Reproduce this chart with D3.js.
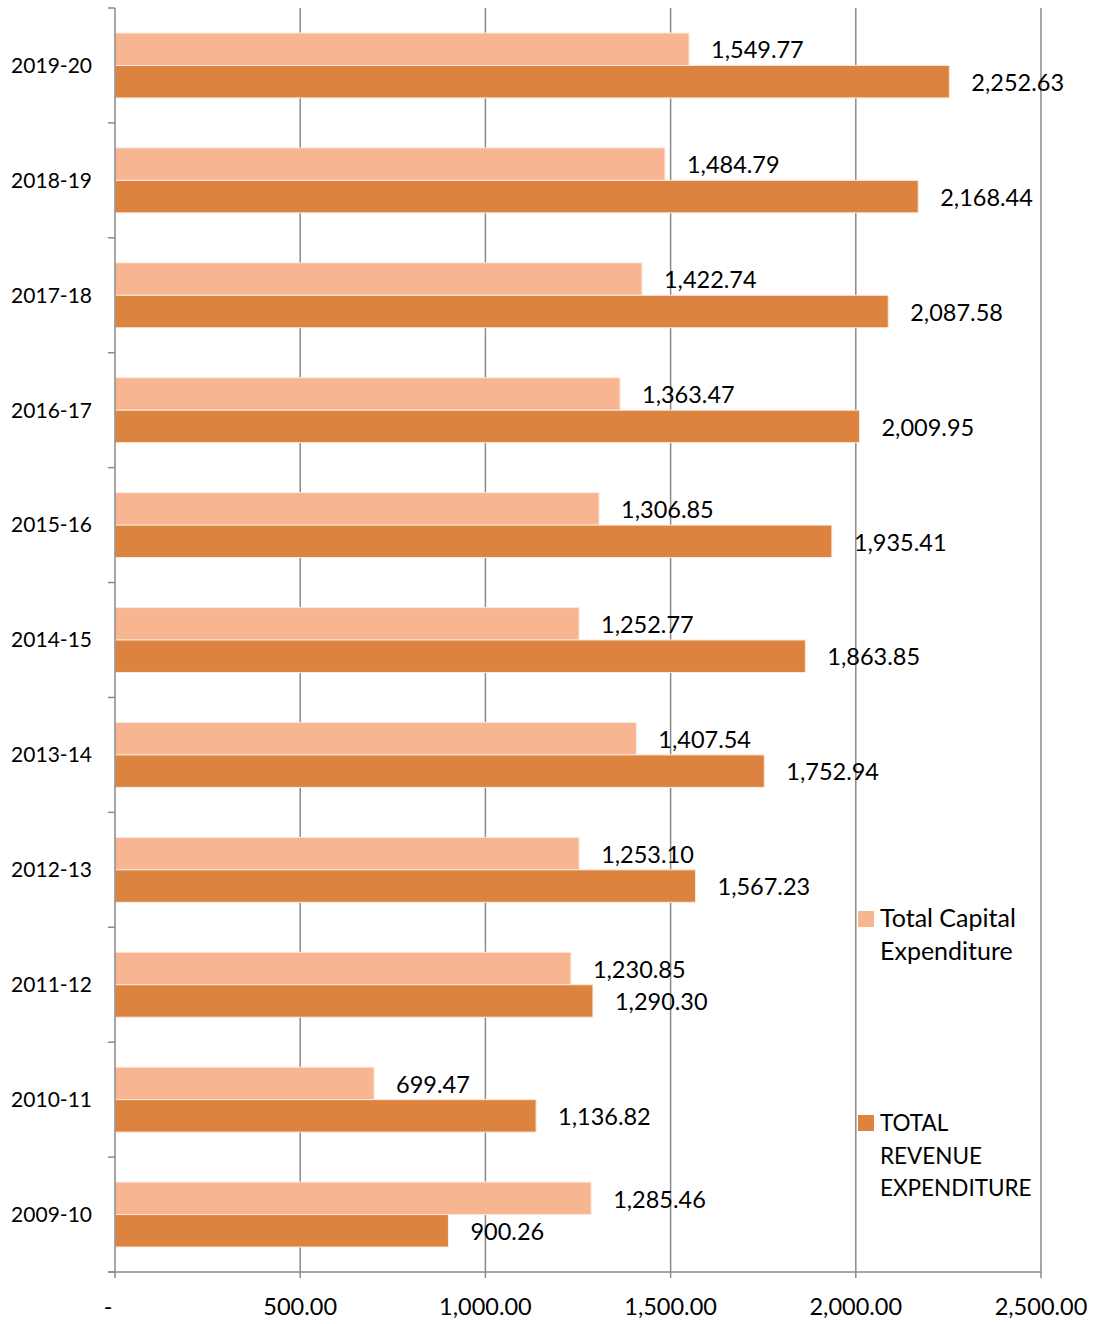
<!DOCTYPE html>
<html><head><meta charset="utf-8">
<script src="https://cdn.jsdelivr.net/npm/d3@7"></script>
<style>body{margin:0;background:#fff}text{font-family:Lato,"Open Sans",sans-serif;fill:#000}</style>
</head><body><svg id="c" width="1094" height="1324"></svg>
<script>
const categories = ["2019-20","2018-19","2017-18","2016-17","2015-16","2014-15","2013-14","2012-13","2011-12","2010-11","2009-10"];
const capitalExp = [1549.77,1484.79,1422.74,1363.47,1306.85,1252.77,1407.54,1253.10,1230.85,699.47,1285.46];
const revenueExp = [2252.63,2168.44,2087.58,2009.95,1935.41,1863.85,1752.94,1567.23,1290.30,1136.82,900.26];
const xTicks = [0,500,1000,1500,2000,2500];
const seriesNames = ["Total Capital\nExpenditure","TOTAL\nREVENUE\nEXPENDITURE"];
const colors = ["#F8B592","#DC843F"];

const svg = d3.select("#c");
const x = d3.scaleLinear().domain([0,2500]).range([115,1041]);
const y = d3.scaleBand().domain(categories).range([8,1272]).paddingInner(0.435).paddingOuter(0.2175);
const y1 = d3.scaleBand().domain([0,1]).range([0,y.bandwidth()]);
const step = y.step();
const grid = "#8a8a8a";
const fmt = d3.format(",.2f");

// gridlines
svg.append("g").selectAll("line").data(xTicks.slice(1)).join("line")
  .attr("x1",d=>x(d)).attr("x2",d=>x(d)).attr("y1",8).attr("y2",1278)
  .attr("stroke",grid).attr("stroke-width",1.5);

const rows = categories.map((c,i)=>({c, vals:[capitalExp[i], revenueExp[i]]}));
const g = svg.append("g").selectAll("g").data(rows).join("g")
  .attr("transform",d=>`translate(0,${y(d.c)})`);
g.selectAll("rect").data(d=>d.vals).join("rect")
  .attr("x",x(0)).attr("y",(d,i)=>y1(i)).attr("width",d=>x(d)-x(0)).attr("height",y1.bandwidth())
  .attr("fill",(d,i)=>colors[i]).attr("stroke","#fde9dc").attr("stroke-width",1);
g.selectAll("text.v").data(d=>d.vals).join("text").attr("class","v")
  .attr("x",d=>x(d)+22).attr("y",(d,i)=>y1(i)+y1.bandwidth()/2+1).attr("dy","0.35em")
  .attr("font-size",23.5).text(d=>fmt(d));

// y axis line and ticks
svg.append("line").attr("x1",115).attr("x2",115).attr("y1",8).attr("y2",1272).attr("stroke",grid).attr("stroke-width",1.5);
svg.append("line").attr("x1",108).attr("x2",1041).attr("y1",1272).attr("y2",1272).attr("stroke",grid).attr("stroke-width",1.5);
svg.append("line").attr("x1",115).attr("x2",115).attr("y1",1272).attr("y2",1278).attr("stroke",grid).attr("stroke-width",1.5);
const bounds = d3.range(categories.length+1).map(i=>8+i*step);
svg.append("g").selectAll("line").data(bounds).join("line")
  .attr("x1",108).attr("x2",115).attr("y1",d=>d).attr("y2",d=>d).attr("stroke",grid).attr("stroke-width",1.5);

// category labels
svg.append("g").selectAll("text").data(categories).join("text")
  .attr("x",92).attr("y",d=>y(d)+y.bandwidth()/2).attr("dy","0.35em").attr("text-anchor","end")
  .attr("font-size",21).text(d=>d);

// x tick labels
svg.append("g").selectAll("text").data(xTicks).join("text")
  .attr("x",d=>d===0?108:x(d)).attr("y",1315).attr("text-anchor","middle")
  .attr("font-size",23.5).text(d=>d===0?"-":fmt(d));

// legend
const legY = [911,1115];
const legSize = [25,22.5];
seriesNames.forEach((n,i)=>{
  svg.append("rect").attr("x",858).attr("y",legY[i]).attr("width",16).attr("height",16).attr("fill",colors[i]);
  n.split("\n").forEach((line,j)=>{
    svg.append("text").attr("x",880).attr("y",legY[i]+16+j*32.5).attr("font-size",legSize[i]).text(line);
  });
});
</script></body></html>
